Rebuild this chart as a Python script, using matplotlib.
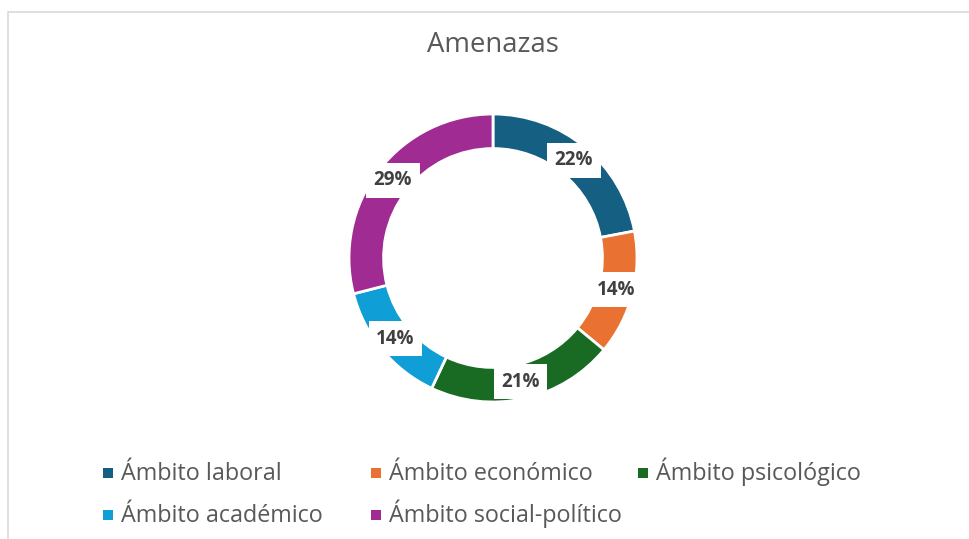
import matplotlib
matplotlib.use("Agg")
import matplotlib.pyplot as plt
from matplotlib.patches import Rectangle
import numpy as np

plt.rcParams['font.family'] = ['Open Sans', 'DejaVu Sans']

# data
categories = ["Ámbito laboral", "Ámbito económico", "Ámbito psicológico",
              "Ámbito académico", "Ámbito social-político"]
values = [22, 14, 21, 14, 29]
colors = ["#156082", "#E97132", "#196B24", "#0F9ED5", "#A02B93"]

W, H = 969, 539
fig = plt.figure(figsize=(W / 100, H / 100), dpi=100)

# chart border (light gray, partly cut off at right/bottom)
fig.patches.append(Rectangle((7.5 / W, -0.1), 1.2, 1 - 11.5 / H + 0.1,
                             transform=fig.transFigure, fill=False,
                             edgecolor="#D9D9D9", linewidth=1.2))

cx, cy, r = 493, 258, 144
ax = fig.add_axes([(cx - r) / W, (H - cy - r) / H, 2 * r / W, 2 * r / H])
wedges, _ = ax.pie(values, colors=colors, startangle=90, counterclock=False,
                   radius=1, wedgeprops=dict(width=0.24, edgecolor="white", linewidth=2))
ax.set_xlim(-1, 1)
ax.set_ylim(-1, 1)

total = sum(values)
for w, v in zip(wedges, values):
    ang = np.deg2rad((w.theta1 + w.theta2) / 2)
    rr = 0.88
    ax.text(rr * np.cos(ang), rr * np.sin(ang), f"{v / total * 100:.0f}%",
            ha="center", va="center", fontsize=13.5, fontweight="bold", color="#404040",
            bbox=dict(boxstyle="square,pad=0.4", facecolor="white", edgecolor="none"))

fig.text(cx / W, 1 - 45 / H, "Amenazas", ha="center", va="center",
         fontsize=19.8, color="#595959")

# legend: fixed-width columns, row-major order (3 per row)
col_x = [103, 371, 638]
row_base = [480, 522]
for k, (name, c) in enumerate(zip(categories, colors)):
    x0 = col_x[k % 3]
    yb = row_base[k // 3]
    fig.patches.append(Rectangle((x0 / W, 1 - (yb - 2) / H), 10 / W, 10 / H,
                                 transform=fig.transFigure, facecolor=c,
                                 edgecolor="none"))
    fig.text((x0 + 18) / W, 1 - yb / H, name, ha="left", va="baseline",
             fontsize=16.8, color="#595959")

fig.savefig("out.png", dpi=100, facecolor="white")
